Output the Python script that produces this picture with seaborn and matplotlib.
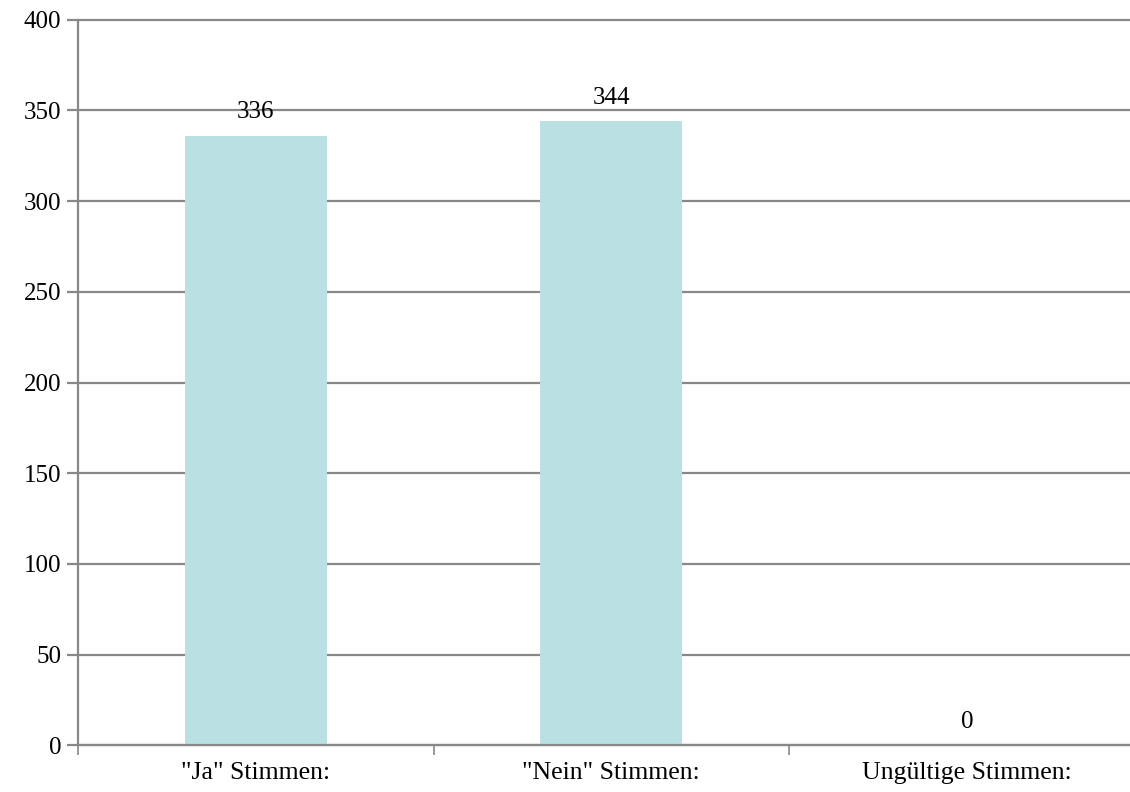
import matplotlib
matplotlib.use("Agg")
import matplotlib.pyplot as plt
import seaborn as sns
import pandas as pd

categories = ['"Ja" Stimmen:', '"Nein" Stimmen:', 'Ungültige Stimmen:']
votes = [336, 344, 0]

df = pd.DataFrame({"cat": categories, "votes": votes})

sns.set_style("white")
plt.rcParams['font.family'] = ['Liberation Serif', 'DejaVu Serif']
plt.rcParams['text.color'] = 'black'

fig = plt.figure(figsize=(11.3, 7.92), dpi=100)
# axes runs slightly past the right edge of the picture, as in the original
ax = fig.add_axes([0.069, 0.059, 0.944, 0.916])

sns.barplot(data=df, x="cat", y="votes", color="#bae0e3", saturation=1,
            width=0.4, ax=ax, edgecolor="none")

grid = "#888888"
ax.set_ylim(0, 400)
ax.set_xlim(-0.5, 2.5)
ax.set_yticks(range(0, 401, 50))
ax.yaxis.grid(True, color=grid, linewidth=1.6)
for gl in ax.get_ygridlines():
    gl.set_clip_on(False)
ax.set_axisbelow(True)
ax.tick_params(axis="y", left=True, length=8, width=1.6, color=grid,
               labelcolor="black", labelsize=18, pad=4)
ax.tick_params(axis="x", which="major", bottom=True, length=0,
               labelcolor="black", labelsize=18.5, pad=12)
ax.set_xticks([-0.5, 0.5, 1.5, 2.5], minor=True)
ax.tick_params(axis="x", which="minor", bottom=True, length=7, width=1.2, color=grid)

for s in ["top", "right"]:
    ax.spines[s].set_visible(False)
for s in ["left", "bottom"]:
    ax.spines[s].set_color(grid)
    ax.spines[s].set_linewidth(1.6)

ax.set_xlabel("")
ax.set_ylabel("")

for i, v in enumerate(votes):
    ax.annotate(str(v), (i, v), xytext=(0, 9), textcoords="offset points",
                ha="center", va="bottom", fontsize=18, color="black")

fig.savefig("out.png", dpi=100)
